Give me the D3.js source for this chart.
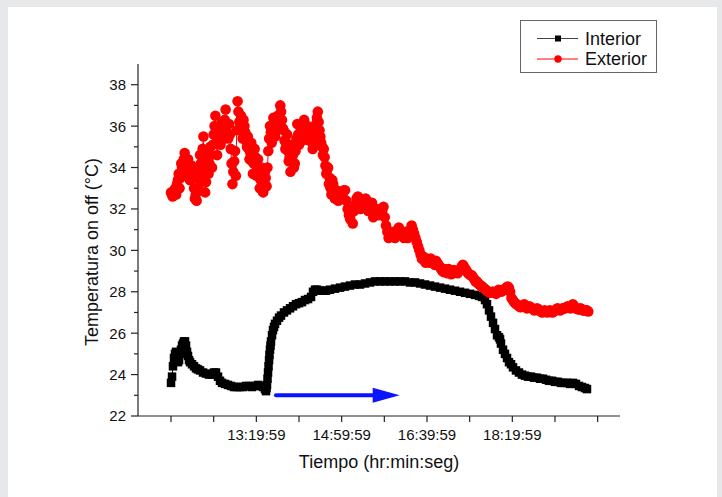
<!DOCTYPE html>
<html><head><meta charset="utf-8">
<script src="https://cdn.jsdelivr.net/npm/d3@7"></script>
<style>body{margin:0;background:#e7e8ea}svg{display:block}</style>
</head><body><svg id="c" width="722" height="497"></svg>
<script>
// ---- data (minutes elapsed since 11:39:59) ----
const seriesNames = ["Interior", "Exterior"];
const xTickMinutes = [0, 50, 100, 150, 200, 250, 300, 350, 400, 450, 500];
const xTickLabels = ["", "", "13:19:59", "", "14:59:59", "", "16:39:59", "", "18:19:59", "", ""];
const yTicks = [22, 24, 26, 28, 30, 32, 34, 36, 38];
const yMinorTicks = [23, 25, 27, 29, 31, 33, 35, 37];

const intMinutes = [0,1.2,2.3,3.5,4.7,5.9,7.0,8.2,9.4,10.5,11.7,12.9,14.1,15.2,16.4,17.6,18.8,19.9,21.1,22.3,24.6,27.0,29.3,31.6,34.0,37.5,41.0,44.5,48.1,50.4,52.7,55.1,57.4,59.8,63.3,66.8,70.3,73.8,77.3,80.9,84.4,87.9,91.4,94.9,98.4,102.0,105.5,107.8,110.2,111.3,111.9,112.5,113.1,113.7,114.3,114.9,115.4,116.0,116.6,117.2,118.4,119.5,120.7,121.9,124.2,126.6,128.9,132.4,135.9,139.5,143.0,146.5,150.0,153.5,157.0,160.6,164.1,166.4,168.8,171.1,174.6,178.1,181.7,186.3,192.2,198.1,203.9,209.8,215.6,221.5,227.4,233.2,239.1,244.9,250.8,256.7,262.5,268.4,274.2,280.1,286.0,291.8,297.7,303.5,309.4,315.3,321.1,327.0,332.8,338.7,344.6,350.4,356.3,361.0,364.5,368.0,370.3,372.7,375.0,377.4,379.7,382.1,384.4,385.6,386.7,389.1,391.4,393.8,396.1,398.5,400.8,404.3,407.8,411.3,414.8,418.4,421.9,425.4,428.9,432.4,435.9,439.5,443.0,446.5,450.0,453.5,457.0,460.6,464.1,467.6,471.1,474.6,478.2,481.7,485.2,487.5];
const intTemp = [23.6,23.9,24.4,24.8,25.0,25.1,24.9,24.6,24.7,25.0,25.2,25.4,25.5,25.6,25.6,25.4,25.1,24.9,24.7,24.6,24.5,24.4,24.3,24.25,24.2,24.1,24.05,24.0,24.0,24.1,24.1,23.9,23.7,23.6,23.55,23.5,23.45,23.4,23.4,23.4,23.4,23.45,23.45,23.4,23.45,23.5,23.45,23.4,23.3,23.2,23.35,23.5,23.8,24.1,24.4,24.7,24.95,25.2,25.4,25.6,25.9,26.15,26.3,26.45,26.6,26.75,26.85,27.0,27.1,27.2,27.3,27.4,27.45,27.5,27.6,27.65,27.75,28.0,28.1,28.1,28.05,28.05,28.05,28.1,28.15,28.2,28.25,28.3,28.35,28.35,28.4,28.45,28.5,28.5,28.5,28.5,28.5,28.5,28.5,28.45,28.45,28.4,28.35,28.3,28.25,28.2,28.15,28.1,28.05,28.0,27.95,27.9,27.85,27.8,27.75,27.6,27.4,27.1,26.8,26.5,26.2,25.9,25.8,25.7,25.5,25.2,25.0,24.8,24.6,24.5,24.35,24.2,24.1,24.0,23.95,23.9,23.9,23.85,23.85,23.8,23.8,23.75,23.7,23.7,23.65,23.65,23.6,23.6,23.6,23.55,23.6,23.55,23.45,23.4,23.35,23.3];

const extMinutes = [0,1,2,3,4,5,6,7,8,9,10,11,12,13,14,15,16,17,18,19,20,21,22,23,24,25,26,27,28,29,30,31,32,33,34,35,36,37,38,39,40,41,42,43,44,45,46,47,48,49,50,51,52,53,54,55,56,57,58,59,60,61,62,63,64,65,66,67,68,69,70,71,72,73,74,75,76,77,78,79,80,81,82,83,84,85,86,87,88,89,90,91,92,93,94,95,96,97,98,99,100,101,102,103,104,105,106,107,108,109,110,111,112,113,114,115,116,117,118,119,120,121,122,123,124,125,126,127,128,129,130,131,132,133,134,135,136,137,138,139,140,141,142,143,144,145,146,147,148,149,150,151,152,153,154,155,156,157,158,159,160,161,162,163,164,165,166,167,168,169,170,171,172,173,174,175,176,177,178,179,180,181,182,183,184,185,186,187,188,189,190,191,192,193,194,195,196,197,198,199,
201,202.5,204,205.5,207,208.5,210,211.5,213,214.5,216,217.5,219,220.5,222,223.5,225,226.5,228,229.5,231,232.5,234,235.5,237,238.5,240,241.5,243,244.5,246,247.5,249,250.5,252,253.5,255,256.5,258,259.5,261,262.5,264,265.5,267,268.5,270,271.5,273,274.5,276,277.5,279,280.5,282,283.5,285,286.5,288,289.5,291,292.5,294,295.5,297,298.5,300,301.5,303,304.5,306,307.5,309,310.5,312,313.5,315,316.5,318,319.5,321,322.5,324,325.5,327,328.5,330,331.5,333,334.5,336,337.5,339,340.5,342,343.5,345,346.5,348,349.5,351,352.5,354,355.5,357,358.5,360,361.5,363,364.5,366,367.5,369,370.5,372,373.5,375,376.5,378,379.5,381,382.5,384,385.5,387,388.5,390,391.5,393,394.5,396,397.5,399,400.5,402,403.5,405,406.5,408,409.5,411,412.5,414,415.5,417,418.5,420,421.5,423,424.5,426,427.5,429,430.5,432,433.5,435,436.5,438,439.5,441,442.5,444,445.5,447,448.5,450,451.5,453,454.5,456,457.5,459,460.5,462,463.5,465,466.5,468,469.5,471,472.5,474,475.5,477,478.5,480,481.5,483,484.5,486,487.5,489];
const extTemp = [32.8,32.7,32.6,32.8,32.9,33.0,32.7,33.2,33.4,33.7,33.0,33.5,34.2,34.0,33.6,34.4,34.7,34.1,33.9,33.7,34.4,34.0,33.4,33.8,34.1,33.9,33.5,33.0,32.5,32.7,32.4,33.8,33.0,33.4,34.6,34.2,33.6,34.9,35.5,34.0,32.8,33.3,34.8,34.4,33.7,34.2,35.0,34.6,34.0,35.1,35.6,36.0,36.5,35.2,34.6,35.4,35.9,35.6,35.1,35.8,36.2,35.7,35.4,36.3,36.8,36.0,35.6,35.4,36.1,35.6,34.9,34.2,33.2,33.8,34.3,34.8,33.6,35.8,37.2,36.7,36.2,35.8,36.5,35.9,35.4,36.3,36.0,35.7,35.3,35.0,35.5,34.9,34.4,34.7,35.2,34.3,33.7,34.2,34.9,34.5,33.6,34.0,34.4,33.6,33.0,33.4,34.0,33.5,32.8,33.3,33.8,33.5,33.1,34.0,34.8,35.4,36.0,35.7,35.2,35.8,36.4,36.0,35.5,35.8,36.2,36.5,35.9,36.4,37.0,36.7,36.3,35.9,35.8,35.3,34.9,35.2,35.6,34.8,34.3,34.5,33.8,34.4,35.1,34.6,34.0,34.2,34.8,35.4,36.1,35.6,35.1,35.5,35.9,35.7,35.3,35.8,36.3,35.9,35.6,35.4,36.0,35.7,35.3,35.5,35.9,35.3,34.9,35.2,35.6,35.4,36.1,36.4,36.7,36.2,35.8,35.5,35.2,35.0,34.6,34.9,34.5,34.1,33.7,33.9,34.0,33.2,33.5,33.0,32.7,33.4,33.2,32.8,32.5,32.6,32.9,32.7,32.4,32.6,32.8,32.7,
32.6,32.9,32.9,32.4,32.0,31.7,31.5,31.8,31.3,31.9,32.2,32.5,32.6,32.3,32.0,32.1,32.4,32.2,32.5,32.4,31.9,32.0,32.2,32.3,31.6,31.8,31.9,32.0,31.7,31.8,32.0,31.9,32.1,31.6,31.2,30.9,30.6,30.7,30.9,30.8,30.7,30.6,30.9,31.0,31.1,30.9,30.8,30.7,30.6,30.9,30.8,30.6,30.7,31.0,31.2,31.0,30.8,30.6,30.4,30.2,30.0,29.8,29.6,29.7,29.5,29.4,29.6,29.5,29.4,29.6,29.5,29.4,29.3,29.5,29.4,29.3,29.2,29.1,29.0,28.95,29.1,29.05,28.9,29.1,29.0,28.85,28.9,29.05,29.0,29.0,28.9,29.0,29.1,29.2,29.3,29.2,29.1,29.0,28.9,28.85,28.8,28.8,28.7,28.6,28.5,28.5,28.4,28.35,28.3,28.25,28.2,28.15,28.1,28.05,28.0,27.95,27.95,28.0,28.0,27.95,27.9,28.0,28.1,28.05,28.0,28.05,28.1,28.15,28.2,28.25,28.2,28.0,27.7,27.6,27.5,27.45,27.4,27.35,27.3,27.25,27.3,27.35,27.4,27.3,27.2,27.25,27.3,27.25,27.2,27.15,27.1,27.15,27.2,27.15,27.1,27.05,27.0,27.05,27.1,27.05,27.0,27.05,27.1,27.05,27.0,27.05,27.1,27.15,27.2,27.15,27.1,27.15,27.2,27.2,27.2,27.25,27.3,27.25,27.2,27.3,27.4,27.3,27.2,27.2,27.15,27.15,27.2,27.15,27.1,27.1,27.1,27.1,27.05];

const arrowMinutes = [123, 268];
const arrowTemp = 23.0;

// ---- layout ----
const svg = d3.select("#c");
svg.append("rect").attr("x", 8).attr("y", 7).attr("width", 709).attr("height", 490).attr("fill", "#fff");

const x = d3.scaleLinear().domain([-38.7, 526.2]).range([138, 620]);
const y = d3.scaleLinear().domain([22, 39]).range([416, 64]);
const font = "'Liberation Sans', Arial, sans-serif";
const axisColor = "#222";

// x axis
const gx = svg.append("g").attr("transform", "translate(0,416)");
gx.append("line").attr("x1", 138).attr("x2", 620).attr("stroke", axisColor).attr("stroke-width", 1.2);
xTickMinutes.forEach((m, i) => {
  gx.append("line").attr("x1", x(m)).attr("x2", x(m)).attr("y1", 0).attr("y2", 6).attr("stroke", axisColor).attr("stroke-width", 1.2);
  if (xTickLabels[i]) gx.append("text").attr("x", x(m)).attr("y", 24).attr("text-anchor", "middle")
    .attr("font-family", font).attr("font-size", 15).attr("fill", "#111").text(xTickLabels[i]);
});
// y axis
const gy = svg.append("g").attr("transform", "translate(138,0)");
gy.append("line").attr("y1", y(39)).attr("y2", y(22)).attr("stroke", axisColor).attr("stroke-width", 1.2);
yTicks.forEach(v => {
  gy.append("line").attr("x1", -7).attr("x2", 0).attr("y1", y(v)).attr("y2", y(v)).attr("stroke", axisColor).attr("stroke-width", 1.2);
  gy.append("text").attr("x", -12).attr("y", y(v)).attr("dy", "0.36em").attr("text-anchor", "end")
    .attr("font-family", font).attr("font-size", 15).attr("fill", "#111").text(v);
});
yMinorTicks.forEach(v => {
  gy.append("line").attr("x1", -4).attr("x2", 0).attr("y1", y(v)).attr("y2", y(v)).attr("stroke", axisColor).attr("stroke-width", 1.2);
});

// titles
svg.append("text").attr("x", 379).attr("y", 468).attr("text-anchor", "middle").attr("font-family", font)
  .attr("font-size", 18).attr("fill", "#111").text("Tiempo (hr:min:seg)");
svg.append("text").attr("transform", "translate(98,252) rotate(-90)").attr("text-anchor", "middle").attr("font-family", font)
  .attr("font-size", 18).attr("fill", "#111").text("Temperatura on off (°C)");

// series
const intData = intMinutes.map((t, i) => ({t, v: intTemp[i]}));
const extData = extMinutes.map((t, i) => ({t, v: extTemp[i]}));
const line = d3.line().x(d => x(d.t)).y(d => y(d.v));
const sq = 8.5;

svg.append("path").datum(intData).attr("d", line).attr("fill", "none").attr("stroke", "#000").attr("stroke-width", 1);
svg.append("g").selectAll("rect").data(intData).join("rect")
  .attr("x", d => x(d.t) - sq / 2).attr("y", d => y(d.v) - sq / 2).attr("width", sq).attr("height", sq).attr("fill", "#000");

svg.append("path").datum(extData).attr("d", line).attr("fill", "none").attr("stroke", "#f00").attr("stroke-width", 1);
svg.append("g").selectAll("circle").data(extData).join("circle")
  .attr("cx", d => x(d.t)).attr("cy", d => y(d.v)).attr("r", 5.3).attr("fill", "#f00");

// arrow annotation
const ax0 = x(arrowMinutes[0]), ax1 = x(arrowMinutes[1]), ay = y(arrowTemp);
svg.append("line").attr("x1", ax0).attr("x2", ax1 - 24).attr("y1", ay).attr("y2", ay)
  .attr("stroke", "#0a14ff").attr("stroke-width", 4).attr("stroke-linecap", "round");
svg.append("path").attr("d", `M${ax1},${ay} L${ax1 - 27},${ay - 7.5} L${ax1 - 27},${ay + 7.5} Z`).attr("fill", "#0a14ff");

// legend
const lg = svg.append("g");
lg.append("rect").attr("x", 520.5).attr("y", 20.5).attr("width", 136).attr("height", 52).attr("fill", "#fff").attr("stroke", "#666").attr("stroke-width", 1);
const legendRows = [{name: seriesNames[0], color: "#444", mark: "#000", sym: "square", y: 38.5},
                    {name: seriesNames[1], color: "#f00", mark: "#f00", sym: "circle", y: 59}];
legendRows.forEach(r => {
  lg.append("line").attr("x1", 537).attr("x2", 578).attr("y1", r.y).attr("y2", r.y).attr("stroke", r.color).attr("stroke-width", 1);
  if (r.sym === "square") lg.append("rect").attr("x", 555).attr("y", r.y - 3).attr("width", 6).attr("height", 6).attr("fill", r.mark);
  else lg.append("circle").attr("cx", 558).attr("cy", r.y).attr("r", 3.7).attr("fill", r.mark);
  lg.append("text").attr("x", 585).attr("y", r.y).attr("dy", "0.36em").attr("font-family", font).attr("font-size", 18).attr("fill", "#111").text(r.name);
});
</script></body></html>
